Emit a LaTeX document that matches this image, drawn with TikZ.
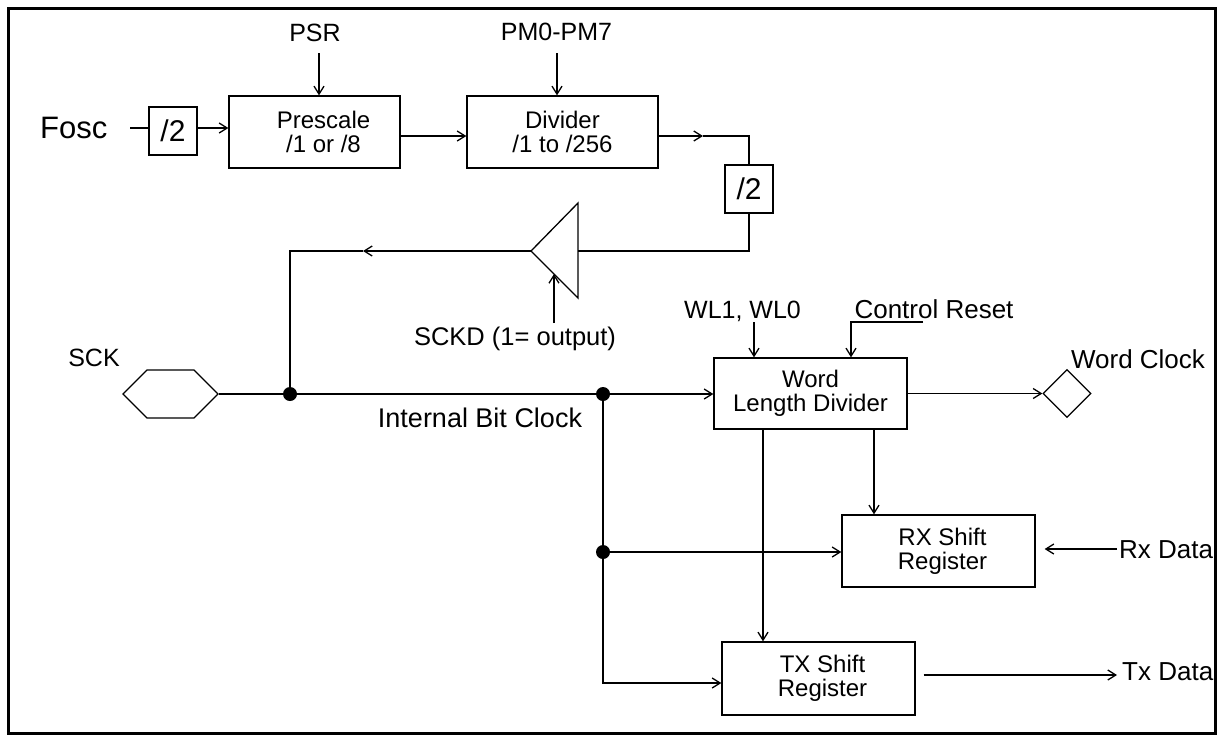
\documentclass[tikz,border=0pt]{standalone}
\usepackage{fontspec}
\setmainfont{Liberation Sans}
\usetikzlibrary{arrows.meta,shapes.geometric,shapes.symbols}
\newcommand\fsz[1]{\fontsize{#1}{24}\selectfont}
\begin{document}
\begin{tikzpicture}[x=1pt,y=-1pt,
  ln/.style={line width=1.3pt},
  arr/.style={line width=1.3pt,-{Straight Barb[length=8pt,width=10pt]}},
  blk/.style={draw,line width=1.3pt,inner sep=0pt,align=center,font=\fsz{24}},
  half/.style={draw,line width=1.3pt,inner sep=0pt,minimum width=48pt,minimum height=48pt,font=\fsz{30}},
  lab/.style={inner sep=0pt,anchor=base},
  dot/.style={circle,fill=black,inner sep=0pt,minimum size=14pt}]
\useasboundingbox (0,0) rectangle (1225,740);
\draw[line width=3pt] (8.5,8.5) rectangle (1215,733);

% blocks
\node[half] (half1) at (173,131) {/2};
\node[blk,minimum width=171pt,minimum height=72pt] (pre) at (314.5,132) {\hspace*{18pt}Prescale\\\hspace*{18pt}/1 or /8};
\node[blk,minimum width=191pt,minimum height=72pt] (div) at (562.5,132) {Divider\\/1 to /256};
\node[half] (half2) at (749,189) {/2};
\node[blk,minimum width=193pt,minimum height=71pt] (word) at (810.5,393.5) {Word\\Length Divider};
\node[blk,minimum width=193pt,minimum height=72pt] (rx) at (938.5,551) {\hspace*{8pt}RX Shift\\\hspace*{8pt}Register};
\node[blk,minimum width=193pt,minimum height=73pt] (tx) at (818.5,678.5) {\hspace*{8pt}TX Shift\\\hspace*{8pt}Register};
\node[draw,line width=1.3pt,signal,signal to=east and west,signal pointer angle=90,
      minimum width=95pt,minimum height=48pt,inner sep=0pt] (sck) at (170.5,394) {};
\node[draw,line width=1.3pt,diamond,minimum width=48pt,minimum height=48pt,inner sep=0pt] (wc) at (1067,393.5) {};

% buffer triangle
\coordinate (tA) at (578,203);
\coordinate (tB) at (578,298);
\coordinate (tip) at (531,251);
\coordinate (tin) at (578,251);
\draw[ln,line join=miter] (tA) -- (tB) -- (tip) -- cycle;

% dots
\node[dot] (d1) at (290,394) {};
\node[dot] (d2) at (603,394) {};
\node[dot] (d3) at (603,552) {};

% labels
\node[lab,anchor=base west,font=\fsz{31}] (fosc) at (40,138) {Fosc};
\node[lab,font=\fsz{25}] (psr) at (315,41) {PSR};
\node[lab,font=\fsz{25}] (pm) at (556.5,40) {PM0-PM7};
\node[lab,font=\fsz{25}] (scklab) at (94,366) {SCK};
\node[lab,font=\fsz{25.5}] (sckd) at (515,345) {SCKD (1= output)};
\node[lab,font=\fsz{27}] (ibc) at (480,427) {Internal Bit Clock};
\node[lab,font=\fsz{25}] (wl) at (742.5,318) {WL1, WL0};
\node[lab,font=\fsz{26}] (cr) at (934,318) {Control Reset};
\node[lab,font=\fsz{26}] (wclab) at (1138,368) {Word Clock};
\node[lab,anchor=base west,font=\fsz{26}] (rxd) at (1119,558) {Rx Data};
\node[lab,anchor=base west,font=\fsz{26}] (txd) at (1122,680) {Tx Data};

% connector end points
\coordinate (f0) at (130,128);
\coordinate (psr0) at (319,53);
\coordinate (pm0) at (557,53);
\coordinate (m1) at (703,136);
\coordinate (m2) at (363,251);
\coordinate (sckd0) at (554,323);
\coordinate (sckd1) at (554,274);
\coordinate (wl0) at (754,322);
\coordinate (cr0) at (923,322);
\coordinate (rxs) at (1117,549);
\coordinate (txs) at (1117,675);

% connectors
\draw[ln] (f0) -- (f0 -| half1.west);
\draw[arr] (half1.east |- f0) -- (pre.west |- f0);
\draw[arr] (psr0) -- (psr0 |- pre.north);
\draw[arr] (pm0) -- (pm0 |- div.north);
\draw[arr] ([yshift=-4pt]pre.east) -- ([yshift=-4pt]div.west);
\draw[arr] ([yshift=-4pt]div.east) -- (m1);
\draw[ln] (m1) -| (half2.north);
\draw[ln] (half2.south) |- (tin);
\draw[arr] (tip) -- (m2);
\draw[ln] (m2) -| (d1);
\draw[arr] (sckd0) -- (sckd1);
\draw[ln] (sck.east) -- (d1) -- (d2);
\draw[arr] (d2) -- (word.west |- d2);
\draw[ln] (d2) -- (d3);
\draw[arr] (d3) -- (rx.west |- d3);
\draw[arr] (d3) |- ([yshift=-4.5pt]tx.west);
\draw[arr] (wl0) -- (wl0 |- word.north);
\draw[arr] (cr0) -| ([xshift=40.5pt]word.north);
\draw[arr] ([xshift=-47.5pt]word.south) -- ([xshift=-47.5pt]word.south |- tx.north);
\draw[arr] ([xshift=63.5pt]word.south) -- ([xshift=63.5pt]word.south |- rx.north);
\draw[arr] (word.east) -- (wc.west);
\draw[arr] (rxs) -- ([xshift=9pt]rx.east |- rxs);
\draw[arr] ([xshift=8pt]tx.east |- txs) -- (txs);
\end{tikzpicture}
\end{document}
